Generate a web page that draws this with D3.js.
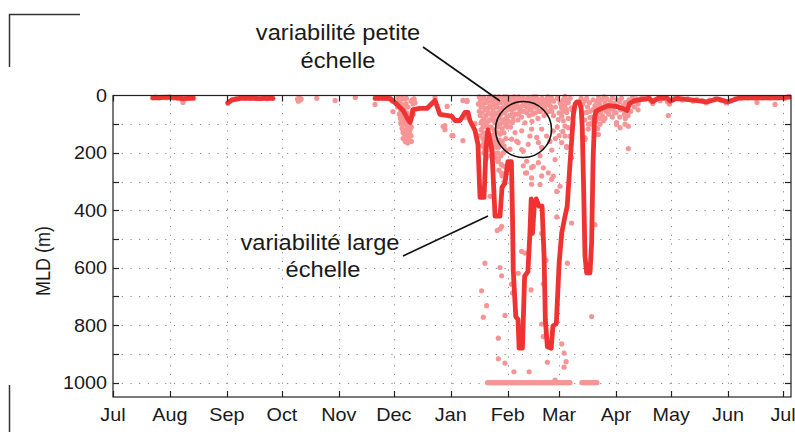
<!DOCTYPE html>
<html>
<head>
<meta charset="utf-8">
<script src="https://cdn.jsdelivr.net/npm/d3@7"></script>
<style>
  html, body { margin: 0; padding: 0; background: #fff; }
  svg text { font-family: "Liberation Sans", Arial, Helvetica, sans-serif; fill: #1a1a1a; }
</style>
</head>
<body>
<svg id="chart" width="795" height="432"></svg>
<script>
// ---- Data: mixed-layer depth (m) by day since 1 July 2010 ----
const monthStarts = ["2010-07-01","2010-08-01","2010-09-01","2010-10-01","2010-11-01","2010-12-01",
  "2011-01-01","2011-02-01","2011-03-01","2011-04-01","2011-05-01","2011-06-01","2011-07-01"];
const monthLabels = ["Jul","Aug","Sep","Oct","Nov","Dec","Jan","Feb","Mar","Apr","May","Jun","Jul"];
const depthLabels = [0, 200, 400, 600, 800, 1000];
const depthGrid = [100, 200, 300, 400, 500, 600, 700, 800, 900, 1000];

// smoothed MLD (large-scale signal); null separates the data gaps
const mldSmooth = [
  [21.8,8],[25.6,7],[31.0,6],[35.4,8],[38.1,11],[40.8,10],[43.6,9], null,
  [62.6,25],[64.8,16],[69.2,10],[74.6,9],[80.1,11],[84.4,9],[87.1,10], null,
  [142.7,10],[146.5,9],[150.9,10],[154.7,31],[158.0,52],[160.7,84],[161.8,94],[162.9,70],[163.4,49],
  [167.0,45],[171.0,45],[173.7,28],[175.4,17],[178.1,66],[182.5,70],[184.6,73],[186.3,87],[189.0,87],
  [191.7,59],[193.4,59],[194.4,87],[197.2,122],[198.8,171],[199.9,355],[202.1,355],[203.2,180],
  [204.2,120],[206.4,190],[208.1,420],[210.8,420],[211.9,320],[213.5,305],[215.1,230],[217.0,230],
  [217.6,420],[218.0,607],[219.4,770],[220.6,780],[221.2,880],[223.0,880],[224.2,630],[226.0,613],
  [227.1,479],[227.8,360],[228.5,480],[229.5,380],[230.5,360],[232.0,385],[233.7,385],[234.8,560],
  [235.5,781],[236.6,875],[238.7,880],[239.6,804],[241.5,793],[243.0,584],[244.4,479],[246.2,421],
  [247.4,386],[248.9,240],[249.9,150],[250.8,65],[251.7,30],[252.6,22],[254.0,22],[255.0,45],
  [255.6,110],[256.4,340],[257.1,560],[258.0,618],[259.8,618],[260.7,514],[261.5,223],[262.3,80],
  [263.0,55],[265.0,48],[270.0,35],[274.0,38],[277.5,45],[280.0,52],[281.3,28],[284.0,18],[292.0,10],
  [294.0,22],[296.8,10],[301.7,8],[303.4,20],[307.2,10],[316.0,16],[323.5,22],[329.0,12],[335.0,22],
  [341.5,8],[354.0,8],[363.3,8],[368.7,5]
];

// individual profiles (small-scale variability)
const profilesSummer = [
  [21.5,8],[23,6],[25,9],[27,7],[29,8],[31,6],[33,9],[35,10],[37,12],[38.1,24],[40,11],[42,9],[44,10],
  [62.5,27],[63.5,20],[65,14],[67,11],[69,9],[72,8],[75,9],[78,10],[81,9],[84,11],[87,10],
  [100.5,12],[101,17],[101.5,10],[102,15],[101,20],[102.5,12],
  [111,10],[121,17],[132,7],[142.7,31],[152.5,56]
];
const profilesEarlyWinter = [
  [143,8],[145,9],[147,8],[149,10],[151,12],[152,20],
  [155.2,10],[155.5,25],[156,40],[156.3,18],[156.8,55],[157.4,32],[157.4,68],[157.9,85],[158.5,12],
  [158.5,45],[158.5,100],[159,75],[159.6,120],[159.6,28],[160,60],[160.2,105],[160.7,135],[160.7,40],
  [161.2,150],[161.2,90],[161.8,160],[161.8,118],[162.3,140],[162.3,20],[162.9,55],[163.4,30],[164,12],
  [159,140],[160.5,165],[157,100],[156.5,80],[158,130],
  [156,65],[156.8,95],[157.5,115],[158,150],[158.8,60],[159.3,90],[159.8,10],[160.3,125],[160.8,70],
  [161.5,100],[161.5,130],[162,85],[162.5,110],[163,15],[163.5,65],[164.5,25],[155,40],[157,8],
  [159.2,160],[161,145],[162.5,160],
  [175.4,7],[179.8,108],[180.8,105],[180.8,119],[184.6,140],[185.2,140],[190.6,157],[190.6,17],
  [192.8,17],[192.8,21],[197.2,98],[182,38],[191.7,77]
];
const profilesWinter = [
  [199.5,5],[200,20],[200.5,40],[201,12],[201,60],[201.5,30],[202,80],[202,8],[202.6,50],[202.6,100],
  [203,25],[203.2,70],[203.7,130],[203.7,15],[204,45],[204.3,90],[204.8,160],[205,5],[205.4,35],
  [205.4,110],[205.9,65],[206,140],[206.4,20],[206.4,85],[207,50],[207,175],[207.5,120],[207.5,10],
  [208,30],[208,95],[208.6,65],[208.6,150],[209.2,15],[209.2,40],[209.7,110],[209.7,200],[210.2,80],
  [210.2,5],[210.8,55],[210.8,135],[211.3,25],[211.3,170],[211.9,95],[212.4,10],[212.4,60],[213,40],
  [213,130],[213.5,20],[213.5,85],[214,250],[214,190],[214.6,5],[215,50],[215,110],[215.7,30],
  [216.2,70],[216.8,15],[217.3,45],[217.9,90],[218.4,20],
  [208.6,180],[209.7,230],[210.2,260],[211.3,210],[211.9,280],[212.4,245],[213,300],[207.5,200],
  [200,140],[201,175],[202,200],[203.2,220],[204.3,190],
  [199,30],[199.5,55],[200,70],[200.5,95],[200.5,120],[201,90],[201.5,110],[201.5,150],[202,130],
  [202,165],[202.5,185],[203,140],[203,45],[203.5,160],[203.5,95],[204,110],[204,20],[204.5,60],
  [204.5,135],[205,85],[205,180],[205.5,150],[205.5,210],[206,40],[206,110],[206.5,165],[207,75],
  [207,140],[207.5,160],[207.5,60],[208,5],[208,125],[208.5,40],[208.5,215],[209,85],[209,165],
  [209.5,130],[209.5,60],[210,25],[210,180],[210.5,100],[210.5,155],[211,70],[211,130],[211.5,45],
  [211.5,240],[212,115],[212,160],[212.5,85],[212.5,200],[213,5],[213,175],[213.5,60],[214,30],
  [214,105],[214,150],[214.5,75],[215,20],[215.5,90],[216,45],[216.5,110],[217.5,60],[218,75],
  [217,8],[218,25],[218.5,45],[219,12],[219.5,65],[220,30],[220.6,85],[221,5],[221.5,50],[222,18],
  [222.5,75],[223,35],[223.5,10],[224,55],[224.4,95],[225,22],[225.5,40],[226,8],[226.6,70],[227,28],
  [227.7,50],[228,12],[228.2,90],[229,35],[229.5,20],[230,60],[230.5,5],[231,42],[231.5,80],[232,15],
  [232.6,30],[233,55],[233.7,10],[234.2,25],[234.8,70],[235.3,45],[235.9,15],[236.4,30],[237,8],
  [237.5,55],[238,20],[238.6,40],[239,10],
  [217.5,35],[218.5,5],[219.5,40],[220.5,15],[221,65],[222,40],[223,55],[224,20],[224.5,35],[225.5,60],
  [226.5,45],[227.5,15],[228.5,65],[229,5],[230,40],[231,25],[232,55],[233,15],[234,45],[235,30],
  [236,60],[236.8,5],[238,35],[239,55],[240,20],[241,40],[242,10],[243,60],[244,30],[245,55],[246,35],
  [247,15],[248,80],[249,10],[250,50],[240,70],[242,110],[243,140],[245,125],[241,150],[239,190],
  [238,160],
  [214.4,100],[217.1,94],[219,129],[222.6,123],[228,117],[233.5,117],[227.1,141],[230.8,146],
  [236.2,141],[217.1,152],[220.7,164],[226.2,170],[231.7,164],[216.2,187],[223.5,193],[233.5,181],
  [232.6,210],[223.5,245],[228,251],[225.3,269],[237.1,269],[228,309],[233.5,280],[238.9,292],
  [231.7,234],[219.9,159],[222.6,188],[225.3,229],[228.9,247],[234.4,252],[232.6,310],[228,287],
  [224.7,270],
  [239.8,281],[241.7,334],[243.5,316],[240.8,223],[247.1,177],[248.9,142],[246.2,107],[244.4,72],
  [244.4,491],[239.8,124],[242.5,84],[245.3,14],[243.5,25],[248,25],[247.1,49],[249.8,43],[244.4,43],
  [246.2,3],[246.2,17],[244.4,42],[247.1,59],[245.3,88],[248,112],[246.2,141],[244.4,164],[247.1,181],
  [249.8,216],
  [257.1,17],[258,59],[259.8,77],[260.7,100],[263.4,135],[257.1,147],[258.9,117],[261.6,48]
];
const profilesDeep = [
  [202.6,584],[200.8,680],[203.5,732],[201.7,772],[209.9,845],[209.9,917],[213.5,932],[218.4,962],
  [226.7,962],[210.8,599],[211.7,628],[213.5,766],[209.3,470],[211.7,456],[210.8,465],[222.6,543],
  [224.4,549],[220.7,619],[217.1,657],[217.6,688],[227.7,677],[233.5,481],[234.4,656],[235.9,574],
  [233.5,796],[234.4,840],[236.6,929],[244.4,865],[245.7,897],[246.8,927],[245.7,946],[240.8,991],
  [262.5,450],[260.7,770],[249.8,444],[247.5,584],[241.7,423],[205.4,351],[211.7,270],[209.9,223]
];
const profilesSpring = [
  [255,10],[256,30],[256.5,60],[257,85],[258,10],[258.5,40],[259,100],[259.5,25],[260,55],[261,75],
  [261.5,15],[262,110],[262.5,35],[263,90],[263.5,65],[264,115],[265,80],[266,50],[266.5,70],[268,80],
  [270,65],[272,75],[273,60],[276,75],[279,80],[282,55],[284,40],[286,50],
  [274.3,94],[278.9,100],[276.2,112],[280.7,185],[265.3,100],[267.1,88],[260.7,95],[264.4,136],
  [274.3,101],[280.7,107],[302.5,70],[257.1,153],
  [263.5,20],[264,45],[264.5,8],[265,30],[265.5,60],[266,15],[267,40],[267.5,5],[268,25],[268.5,55],
  [269,12],[270,35],[270.5,50],[271,20],[272,8],[272.5,45],[273,28],[274,60],[274.5,15],[275,38],
  [276,22],[276.5,50],[277,10],[278,35],[278.5,65],[279,25],[280,45],[280.5,70],[281,15],[282,30],
  [283,8],[284,22],[285,12],[286,30],[287,15],[288,8],
  [290,12],[292,8],[293,20],[294,28],[295,15],[296.5,12],[298,18],[300,10],[302,22],[303,30],[304,14],
  [306,10],[308,12],[310,16],[313,12],[316,20],[318,14],[321,18],[323,26],[325,16],[328,12],[331,16],
  [334,26],[336,20],[339,12],[342,10],[346,8],[350,10],[350.8,24],[354,8],[358,9],[360.6,31],[362,8],
  [366,10],[368,6]
];
// profiles reaching the 1000 m floor
const floorDays = [204,205,206,207,208,209,210,211,212,213,214,215,216,217,218,219,220,221,222,223,
  224,225,226,227,228,229,230,231,232,233,234,235,236,237,238,239,240,241,242,243,244,245,246,247,
  248,248.9,255.4,256.5,257.5,258.5,259.5,260.5,261.5,262.5,263.6];
const floorDepth = 1000;

// ---- Layout ----
const svg = d3.select("#chart");
const plot = { left: 113, right: 791, top: 95.5, bottom: 397 };
const t0 = Date.UTC(2010, 6, 1);
const dayToDate = d => new Date(t0 + d * 864e5);

const x = d3.scaleUtc()
  .domain([dayToDate(0), dayToDate(369.3)])
  .range([plot.left, plot.right]);
const y = d3.scaleLinear().domain([0, 1050]).range([plot.top, plot.bottom]);

const months = monthStarts.map(s => new Date(s + "T00:00:00Z"));
const axisColor = "#222";
const textScale = 1.1;

// figure-frame corner marks
const frame = svg.append("g").attr("stroke", "#333").attr("stroke-width", 1.5).attr("fill", "none");
frame.append("path").attr("d", "M9.5,67 V14.5 H80");
frame.append("path").attr("d", "M9.5,385 V432");

// dotted grid
const grid = svg.append("g").attr("stroke", "#8a8a8a").attr("stroke-width", 1)
  .attr("stroke-dasharray", "1.2,7.5");
grid.selectAll("line.h").data(depthGrid).join("line")
  .attr("x1", plot.left).attr("x2", plot.right)
  .attr("y1", d => Math.round(y(d)) + 0.5).attr("y2", d => Math.round(y(d)) + 0.5);
grid.selectAll("line.v").data(months.slice(1)).join("line")
  .attr("x1", d => Math.round(x(d)) + 0.5).attr("x2", d => Math.round(x(d)) + 0.5)
  .attr("y1", plot.top).attr("y2", plot.bottom);

// data layer, clipped to the axes box
svg.append("clipPath").attr("id", "plotClip").append("rect")
  .attr("x", plot.left).attr("y", plot.top - 2)
  .attr("width", plot.right - plot.left).attr("height", plot.bottom - plot.top + 2);
const data = svg.append("g").attr("clip-path", "url(#plotClip)");

const dotColor = "#f59595";
const allProfiles = [].concat(profilesSummer, profilesEarlyWinter, profilesWinter, profilesDeep, profilesSpring,
  floorDays.map(d => [d, floorDepth]));
data.append("g").attr("fill", dotColor)
  .selectAll("circle").data(allProfiles).join("circle")
  .attr("cx", d => x(dayToDate(d[0]))).attr("cy", d => y(d[1])).attr("r", 2.6);

const line = d3.line()
  .defined(d => d !== null)
  .x(d => x(dayToDate(d[0])))
  .y(d => y(d[1]));
data.append("path").datum(mldSmooth)
  .attr("d", line).attr("fill", "none")
  .attr("stroke", "#ef3333").attr("stroke-width", 4.8)
  .attr("stroke-linejoin", "round").attr("stroke-linecap", "round");

// axes box with inward ticks
const axes = svg.append("g").attr("stroke", axisColor).attr("stroke-width", 1.2).attr("fill", "none");
axes.append("rect").attr("x", plot.left).attr("y", plot.top)
  .attr("width", plot.right - plot.left).attr("height", plot.bottom - plot.top);
const tickLen = 6;
months.forEach(m => {
  const px = Math.round(x(m)) + 0.5;
  axes.append("line").attr("x1", px).attr("x2", px).attr("y1", plot.bottom).attr("y2", plot.bottom - tickLen);
  axes.append("line").attr("x1", px).attr("x2", px).attr("y1", plot.top).attr("y2", plot.top + tickLen);
});
depthGrid.forEach(v => {
  const py = Math.round(y(v)) + 0.5;
  axes.append("line").attr("x1", plot.left).attr("x2", plot.left + tickLen).attr("y1", py).attr("y2", py);
  axes.append("line").attr("x1", plot.right).attr("x2", plot.right - tickLen).attr("y1", py).attr("y2", py);
});

// tick labels
const labels = svg.append("g").attr("font-size", 18);
labels.selectAll("text.y").data(depthLabels).join("text")
  .attr("text-anchor", "end").attr("dy", "0.36em")
  .attr("transform", d => `translate(107,${y(d)}) scale(${textScale},1)`)
  .text(d => d);
labels.selectAll("text.x").data(monthLabels).join("text")
  .attr("text-anchor", "middle")
  .attr("transform", (d, i) => `translate(${x(months[i])},421) scale(${textScale},1)`)
  .text(d => d);

// y-axis title
svg.append("text").attr("font-size", 18).attr("text-anchor", "middle")
  .attr("transform", "translate(50,261) rotate(-90) scale(1,1.1)")
  .text("MLD (m)");

// annotations
const note = svg.append("g").attr("font-size", 21.5).attr("text-anchor", "middle");
const noteLines = [
  ["variabilité petite", 338, 40], ["échelle", 338, 68],
  ["variabilité large", 320, 250], ["échelle", 323, 277]
];
noteLines.forEach(([t, cx, by]) => {
  note.append("text").attr("transform", `translate(${cx},${by}) scale(${textScale},1)`).text(t);
});
const marks = svg.append("g").attr("stroke", "#111").attr("stroke-width", 1.6).attr("fill", "none");
marks.append("circle").attr("cx", 523.5).attr("cy", 129.5).attr("r", 28);
marks.append("line").attr("x1", 423).attr("y1", 47).attr("x2", 500).attr("y2", 101);
marks.append("line").attr("x1", 403).attr("y1", 256).attr("x2", 488).attr("y2", 216);
</script>
</body>
</html>
